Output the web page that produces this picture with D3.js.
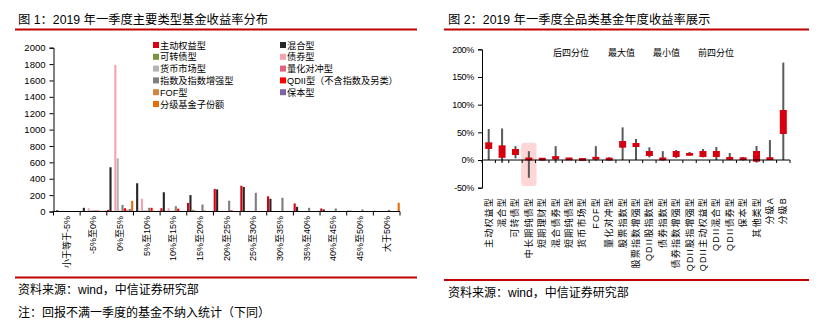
<!DOCTYPE html>
<html>
<head>
<meta charset="utf-8">
<script src="https://cdn.jsdelivr.net/npm/d3@7"></script>
<style>
  html, body { margin: 0; padding: 0; background: #fff; }
  svg { display: block; }
  text { font-family: "Liberation Sans", Arial, "Noto Sans CJK SC", sans-serif; fill: #000; }
</style>
</head>
<body>
<svg id="chart" width="821" height="328"></svg>
<script>
// ---------------- Figure 1 data ----------------
const distCategories = ["小于等于-5%","-5%至0%","0%至5%","5%至10%","10%至15%","15%至20%","20%至25%","25%至30%","30%至35%","35%至40%","40%至45%","45%至50%","大于50%"];
const seriesNames = ["主动权益型","混合型","可转债型","债券型","货币市场型","量化对冲型","指数及指数增强型","QDII型（不含指数及另类）","FOF型","保本型","分级基金子份额"];
const seriesColors = ["#d7000f","#262626","#77933c","#f4a4b0","#b4b4b4","#e0647c","#7f7f7f","#ff0000","#d28542","#8064a2","#e46c0a"];
const activeEquity = [2, 5, 20, 6, 40, 105, 275, 315, 185, 98, 37, 10, 8];
const hybrid       = [15, 45, 540, 345, 235, 200, 270, 300, 155, 57, 25, 10, 5];
const convertible  = [0, 2, 5, 8, 8, 20, 5, 2, 1, 0, 0, 0, 0];
const bond         = [10, 40, 1790, 155, 40, 15, 10, 8, 8, 5, 8, 6, 6];
const moneyMarket  = [0, 15, 650, 15, 8, 4, 3, 2, 1, 1, 0, 0, 0];
const quantHedge   = [0, 15, 10, 10, 10, 5, 3, 2, 1, 1, 0, 0, 0];
const indexFunds   = [5, 15, 80, 45, 65, 85, 132, 228, 167, 45, 37, 25, 20];
const qdii         = [0, 12, 40, 45, 35, 10, 15, 5, 3, 2, 2, 1, 1];
const fof          = [0, 3, 20, 10, 5, 3, 2, 0, 0, 0, 0, 0, 0];
const guaranteed   = [0, 2, 30, 5, 3, 0, 0, 0, 0, 0, 0, 0, 0];
const structured   = [0, 10, 130, 10, 5, 5, 5, 5, 5, 8, 5, 3, 106];
const distTicks = [0,200,400,600,800,1000,1200,1400,1600,1800,2000];

// ---------------- Figure 2 data ----------------
const boxCategories = ["主动权益型","混合型","可转债型","中长期纯债型","短期理财型","混合债券型","短期纯债型","货币市场型","FOF型","量化对冲型","股票指数型","股票指数增强型","QDII股指数型","债券指数型","债券指数增强型","QDII股指增强型","QDII主动权益型","QDII混合型","QDII债券型","保本型","其他类型","分级A","分级B"];
const maxVals = [56, 57, 25, 16, 3, 25, 4, 3, 25, 5, 59, 38, 23, 16, 18, 14.5, 20, 23.5, 12.7, 5.4, 25.3, 36, 176];
const q3Vals  = [32, 26.5, 20, 3.5, 2.5, 7, 3, 1.5, 5.5, 3, 34.3, 30.7, 16.3, 3.6, 16.3, 12.5, 16.3, 16.3, 5.4, 4.2, 16.3, 4.2, 90.4];
const q1Vals  = [20, 4, 9, 0.5, 0.5, 1, 1, 0.5, 1, 0.5, 22.3, 23.5, 7.2, 0.5, 5.4, 8, 5.4, 5.4, 0.5, 0.5, -3, 1, 47];
const minVals = [0, -5, 3, -32, -1, -5, 0, 0.3, -1, -1, 0, 0, 4.8, -1, 3.6, 8, 4.8, 0, 0, -1, -4.8, 0, 0];
const boxTicks = [-50, 0, 50, 100, 150, 200];
const boxLegend = ["后四分位","最大值","最小值","前四分位"];
const highlightCategory = "中长期纯债型";
const highlightRange = [-47, 31];

const svg = d3.select("#chart");
svg.append("rect").attr("width", 821).attr("height", 328).attr("fill", "#fff");

// ---------------- Figure 1 ----------------
(function () {
  const g = svg.append("g");
  g.append("text").attr("x", 18).attr("y", 24).attr("font-size", 12.3).text("图 1：2019 年一季度主要类型基金收益率分布");
  g.append("line").attr("x1", 15).attr("x2", 417).attr("y1", 29.5).attr("y2", 29.5).attr("stroke", "#c00000").attr("stroke-width", 2);
  g.append("line").attr("x1", 15).attr("x2", 417).attr("y1", 277.5).attr("y2", 277.5).attr("stroke", "#c00000").attr("stroke-width", 2);
  g.append("text").attr("x", 18).attr("y", 294).attr("font-size", 12).text("资料来源：wind，中信证券研究部");
  g.append("text").attr("x", 18).attr("y", 317).attr("font-size", 12).text("注：回报不满一季度的基金不纳入统计（下同）");

  const x = d3.scaleBand().domain(distCategories).range([53.5, 400]).padding(0);
  const xi = d3.scaleBand().domain(seriesNames).range([0, x.bandwidth()]).paddingInner(0.12).paddingOuter(0.1);
  const y = d3.scaleLinear().domain([0, 2000]).range([211.5, 47.7]);

  const allSeries = [activeEquity, hybrid, convertible, bond, moneyMarket, quantHedge, indexFunds, qdii, fof, guaranteed, structured];

  const groups = g.selectAll("g.grp").data(distCategories).join("g")
    .attr("transform", d => `translate(${x(d)},0)`);
  groups.selectAll("rect").data((d, ci) => seriesNames.map((s, si) => ({ s, si, v: allSeries[si][ci] })))
    .join("rect")
    .attr("x", d => xi(d.s))
    .attr("width", xi.bandwidth())
    .attr("y", d => y(d.v))
    .attr("height", d => y(0) - y(d.v))
    .attr("fill", d => seriesColors[d.si]);

  const yAxis = g.append("g").attr("transform", "translate(53.5,0)")
    .call(d3.axisLeft(y).tickValues(distTicks).tickSize(4).tickPadding(4).tickFormat(d3.format("d")));
  yAxis.select(".domain").attr("stroke", "#000");
  yAxis.selectAll("text").attr("font-size", 9.5).attr("font-family", "Liberation Sans, Arial, sans-serif");

  // x axis
  g.append("line").attr("x1", 53.5).attr("x2", 400).attr("y1", y(0)).attr("y2", y(0)).attr("stroke", "#000");
  const bounds = distCategories.map(c => x(c)).concat([x(distCategories[distCategories.length - 1]) + x.bandwidth()]);
  g.selectAll("line.xt").data(bounds).join("line")
    .attr("x1", d => d).attr("x2", d => d).attr("y1", y(0)).attr("y2", y(0) + 4).attr("stroke", "#000");
  g.selectAll("text.xl").data(distCategories).join("text")
    .attr("font-size", 9)
    .attr("text-anchor", "end")
    .attr("transform", d => `translate(${x(d) + x.bandwidth() / 2 + 3},216) rotate(-90)`)
    .text(d => d);

  // legend
  const legendCols = [153, 280];
  seriesNames.forEach((s, i) => {
    const col = i % 2, row = Math.floor(i / 2);
    const lx = legendCols[col], ly = 45 + row * 11.8;
    g.append("rect").attr("x", lx).attr("y", ly - 3).attr("width", 6).attr("height", 6).attr("fill", seriesColors[i]);
    g.append("text").attr("x", lx + 7).attr("y", ly + 3.5).attr("font-size", 9.2).text(s);
  });
})();

// ---------------- Figure 2 ----------------
(function () {
  const g = svg.append("g");
  g.append("text").attr("x", 448).attr("y", 24).attr("font-size", 12.3).text("图 2：2019 年一季度全品类基金年度收益率展示");
  g.append("line").attr("x1", 444).attr("x2", 809).attr("y1", 29.5).attr("y2", 29.5).attr("stroke", "#c00000").attr("stroke-width", 2);
  g.append("line").attr("x1", 444).attr("x2", 809).attr("y1", 280).attr("y2", 280).attr("stroke", "#c00000").attr("stroke-width", 2);
  g.append("text").attr("x", 448).attr("y", 297).attr("font-size", 12).text("资料来源：wind，中信证券研究部");

  const x = d3.scaleBand().domain(boxCategories).range([482, 790]).padding(0);
  const y = d3.scaleLinear().domain([-50, 200]).range([187.7, 49.3]);

  // highlight
  g.append("rect")
    .attr("x", x(highlightCategory) - 1)
    .attr("width", x.bandwidth() + 2)
    .attr("y", y(highlightRange[1]))
    .attr("height", y(highlightRange[0]) - y(highlightRange[1]))
    .attr("rx", 3).attr("fill", "#ffd6d6");

  const rows = boxCategories.map((c, i) => ({ c, max: maxVals[i], q3: q3Vals[i], q1: q1Vals[i], min: minVals[i] }));
  g.selectAll("line.wh").data(rows).join("line")
    .attr("x1", d => x(d.c) + x.bandwidth() / 2).attr("x2", d => x(d.c) + x.bandwidth() / 2)
    .attr("y1", d => y(d.max)).attr("y2", d => y(d.min))
    .attr("stroke", "#595959").attr("stroke-width", 2);
  g.selectAll("rect.bx").data(rows).join("rect")
    .attr("x", d => x(d.c) + x.bandwidth() / 2 - 3.5)
    .attr("width", 7)
    .attr("y", d => Math.min(y(d.q3), y((d.q1 + d.q3) / 2) - 1.4))
    .attr("height", d => Math.max(y(d.q1) - y(d.q3), 2.8))
    .attr("fill", "#d7000f");

  // y axis
  const yAxis = g.append("g").attr("transform", "translate(482,0)")
    .call(d3.axisLeft(y).tickValues(boxTicks).tickSize(4).tickPadding(4).tickFormat(d => d + "%"));
  yAxis.select(".domain").attr("stroke", "#000");
  yAxis.selectAll("text").attr("font-size", 9).attr("font-family", "Liberation Sans, Arial, sans-serif").attr("letter-spacing", "-0.3px");

  // x axis at zero
  g.append("line").attr("x1", 482).attr("x2", 790).attr("y1", y(0)).attr("y2", y(0)).attr("stroke", "#000");
  const bounds = boxCategories.map(c => x(c)).concat([790]);
  g.selectAll("line.xt").data(bounds).join("line")
    .attr("x1", d => d).attr("x2", d => d).attr("y1", y(0)).attr("y2", y(0) + 3).attr("stroke", "#000");
  g.selectAll("text.xl").data(boxCategories).join("text")
    .attr("font-size", 9)
    .attr("letter-spacing", "1.2px")
    .attr("text-anchor", "end")
    .attr("transform", d => `translate(${x(d) + x.bandwidth() / 2 + 3},197) rotate(-90)`)
    .text(d => d);

  // legend (text only)
  const legendX = [553, 608, 653, 698];
  boxLegend.forEach((t, i) => {
    g.append("text").attr("x", legendX[i]).attr("y", 56).attr("font-size", 9).text(t);
  });
})();
</script>
</body>
</html>
